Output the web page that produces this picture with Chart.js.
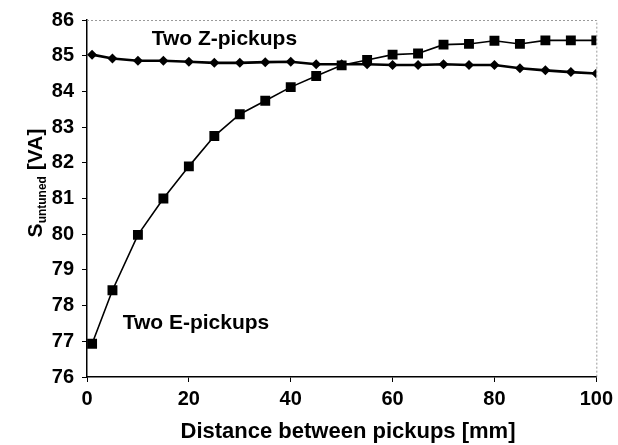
<!DOCTYPE html>
<html><head><meta charset="utf-8">
<script src="https://cdn.jsdelivr.net/npm/chart.js@4/dist/chart.umd.min.js"></script>
<style>html,body{margin:0;padding:0;background:#fff}canvas{display:block}</style>
</head><body>
<canvas id="c" width="618" height="445"></canvas>
<script>
const distances = [1,5,10,15,20,25,30,35,40,45,50,55,60,65,70,75,80,85,90,95,100];
const ePickups = [76.93,78.43,79.98,81.0,81.9,82.75,83.36,83.74,84.12,84.43,84.73,84.88,85.03,85.06,85.31,85.33,85.42,85.33,85.43,85.43,85.43];
const zPickups = [85.03,84.92,84.86,84.86,84.83,84.8,84.8,84.82,84.83,84.76,84.76,84.76,84.74,84.74,84.76,84.74,84.74,84.65,84.59,84.54,84.5];
const xTicks = [0,20,40,60,80,100];
const yTicks = [76,77,78,79,80,81,82,83,84,85,86];
const seriesLabels = ["Two E-pickups","Two Z-pickups"];
const xTitle = "Distance between pickups [mm]";
const yTitleMain = "S", yTitleSub = "untuned", yTitleUnit = " [VA]";

const FONT = "'Liberation Sans', Arial, sans-serif";

const toPts = (xs, ys) => xs.map((x,i)=>({x, y: ys[i]}));

const textPlugin = {
  id: 'texts',
  beforeDatasetsDraw(chart){
    const {ctx, chartArea:a} = chart;
    ctx.save();
    ctx.strokeStyle = '#9a9a9a';
    ctx.lineWidth = 1;
    ctx.setLineDash([2,2]);
    ctx.beginPath();
    ctx.moveTo(a.left, a.top+0.5); ctx.lineTo(a.right+0.5, a.top+0.5); ctx.lineTo(a.right+0.5, a.bottom);
    ctx.stroke();
    ctx.restore();
  },
  afterDraw(chart){
    const {ctx, scales:{x, y}} = chart;
    ctx.save();
    ctx.fillStyle = '#000';
    ctx.font = "bold 21px " + FONT;
    ctx.textBaseline = 'alphabetic';
    ctx.textAlign = 'left';
    ctx.fillText(seriesLabels[1], x.getPixelForValue(12.7), 45);
    ctx.fillText(seriesLabels[0], x.getPixelForValue(7.0), 329);
    // x title
    ctx.font = "bold 22px " + FONT;
    ctx.textAlign = 'center';
    ctx.fillText(xTitle, 348, 438);
    // y title rotated
    ctx.translate(42, 183);
    ctx.rotate(-Math.PI/2);
    ctx.textAlign = 'left';
    ctx.font = "bold 21px " + FONT;
    const w1 = ctx.measureText(yTitleMain).width;
    ctx.font = "bold 12px " + FONT;
    const w2 = ctx.measureText(yTitleSub).width;
    ctx.font = "bold 21px " + FONT;
    const w3 = ctx.measureText(yTitleUnit).width;
    let sx = -(w1+w2+w3)/2;
    ctx.fillText(yTitleMain, sx, 0);
    ctx.font = "bold 12px " + FONT;
    ctx.fillText(yTitleSub, sx + w1, 4);
    ctx.font = "bold 21px " + FONT;
    ctx.fillText(yTitleUnit, sx + w1 + w2, 0);
    ctx.restore();
  }
};

new Chart(document.getElementById('c'), {
  type: 'line',
  data: {
    datasets: [
      { label: seriesLabels[0], data: toPts(distances, ePickups), borderColor:'#000', backgroundColor:'#000',
        borderWidth:1.6, pointStyle:'rect', pointRadius:7, pointBorderWidth:0, tension:0 },
      { label: seriesLabels[1], data: toPts(distances, zPickups), borderColor:'#000', backgroundColor:'#000',
        borderWidth:2.6, pointStyle:'rectRot', pointRadius:5, pointBorderWidth:0, tension:0 }
    ]
  },
  options: {
    responsive:false, animation:false, devicePixelRatio:1,
    layout:{ padding:{ left:0, top:15, right:19, bottom:0 } },
    plugins:{ legend:{display:false}, tooltip:{enabled:false} },
    scales:{
      x:{ type:'linear', min:0, max:100,
        afterBuildTicks(s){ s.ticks = xTicks.map(v=>({value:v})); },
        afterFit(s){ s.height = 68; },
        grid:{ drawOnChartArea:false, color:'#000', tickLength:5, lineWidth:1 },
        border:{ color:'#000', width:1.5 },
        ticks:{ color:'#000', font:{ family:FONT, size:20, weight:'bold' }, padding:5, maxRotation:0 }
      },
      y:{ type:'linear', min:76, max:86,
        afterBuildTicks(s){ s.ticks = yTicks.map(v=>({value:v})); },
        afterFit(s){ s.width = 87; },
        grid:{ drawOnChartArea:false, color:'#000', tickLength:5, lineWidth:1 },
        border:{ color:'#000', width:1.5 },
        ticks:{ color:'#000', font:{ family:FONT, size:20, weight:'bold' }, padding:8 }
      }
    }
  },
  plugins:[textPlugin]
});
</script>
</body></html>
